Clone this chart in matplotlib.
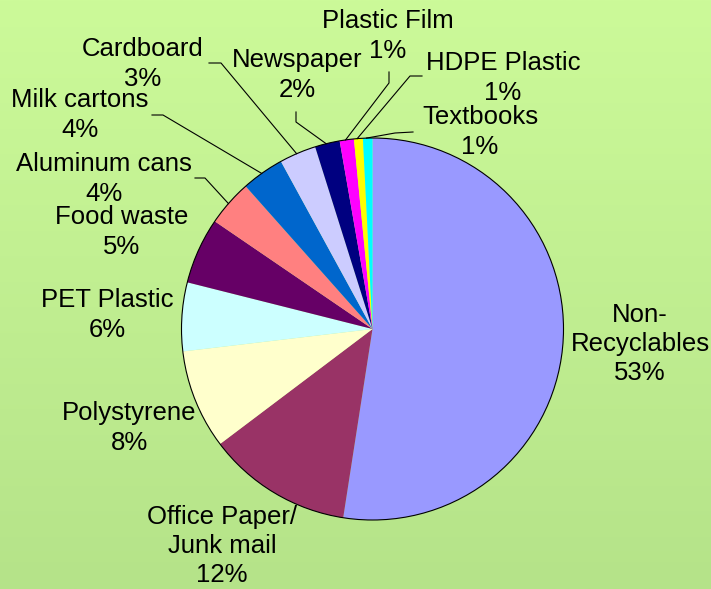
import matplotlib
matplotlib.use("Agg")
import matplotlib.pyplot as plt
import numpy as np
from matplotlib.patches import Circle

plt.rcParams["font.family"] = ["Liberation Sans", "DejaVu Sans"]

# slices, clockwise from 12 o'clock
categories = [
    "Non-\nRecyclables", "Office Paper/\nJunk mail", "Polystyrene", "PET Plastic",
    "Food waste", "Aluminum cans", "Milk cartons", "Cardboard", "Newspaper",
    "Plastic Film", "HDPE Plastic", "Textbooks",
]
shares = [52.4, 12.25, 8.4, 5.8, 5.6, 3.9, 3.6, 3.1, 2.1, 1.2, 0.75, 0.8]
pct_labels = ["53%", "12%", "8%", "6%", "5%", "4%", "4%", "3%", "2%", "1%", "1%", "1%"]
colors = [
    "#9999FF", "#993366", "#FFFFCC", "#CCFFFF", "#660066", "#FF8080",
    "#0066CC", "#CCCCFF", "#000080", "#FF00FF", "#FFFF00", "#00FFFF",
]

# label placement in pixels (block centre) and leader-line start/elbow
label_pos = [
    (640, 344), (222, 546), (129, 428), (107, 315), (122, 232), (104, 179),
    (80, 115), (143, 64), (297, 75), (388, 36), (503, 78), (480, 132),
]
leaders = {
    5: [(195, 178), (205, 178)],
    6: [(152, 115), (163, 115)],
    7: [(209, 63), (221, 63)],
    8: [(296, 112), (296, 122)],
    9: [(389, 72), (389, 83)],
    10: [(422, 76), (410, 76)],
    11: [(413, 132), (395, 133)],
}

W, H = 711, 589
cx, cy, r = 372.5, 329, 191

fig = plt.figure(figsize=(W / 100, H / 100), dpi=100)
ax = fig.add_axes([0, 0, 1, 1])

# green vertical gradient background
top = np.array([204, 250, 153]) / 255
bottom = np.array([181, 227, 137]) / 255
t = np.linspace(0, 1, 256)[:, None]
grad = (top * (1 - t) + bottom * t)[:, None, :]
ax.imshow(grad, extent=[0, W, H, 0], aspect="auto", zorder=0)

# y axis is flipped below, so start at -90 and go "counterclock" in data space
wedges, _ = ax.pie(
    shares, colors=colors, startangle=-90, counterclock=True,
    center=(cx, cy), radius=r, wedgeprops=dict(linewidth=0, edgecolor="none"),
)
for w in wedges:
    w.set_zorder(2)
ax.add_patch(Circle((cx, cy), r, fill=False, edgecolor="black", lw=0.8, zorder=3))

ax.set_xlim(0, W)
ax.set_ylim(H, 0)
ax.set_aspect("auto")
ax.axis("off")

# labels
cum = np.cumsum([0] + shares)
for i, (name, pct) in enumerate(zip(categories, pct_labels)):
    x, y = label_pos[i]
    ax.text(x, y, f"{name}\n{pct}", ha="center", va="center", fontsize=18.5,
            linespacing=1.27, zorder=4)
    if i in leaders:
        mid = np.deg2rad((cum[i] + cum[i + 1]) / 2 / 100 * 360)
        ex, ey = cx + r * np.sin(mid), cy - r * np.cos(mid)
        pts = leaders[i] + [(ex, ey)]
        ax.plot([p[0] for p in pts], [p[1] for p in pts], color="black",
                lw=0.8, zorder=4)

fig.savefig("out.png", dpi=100)
